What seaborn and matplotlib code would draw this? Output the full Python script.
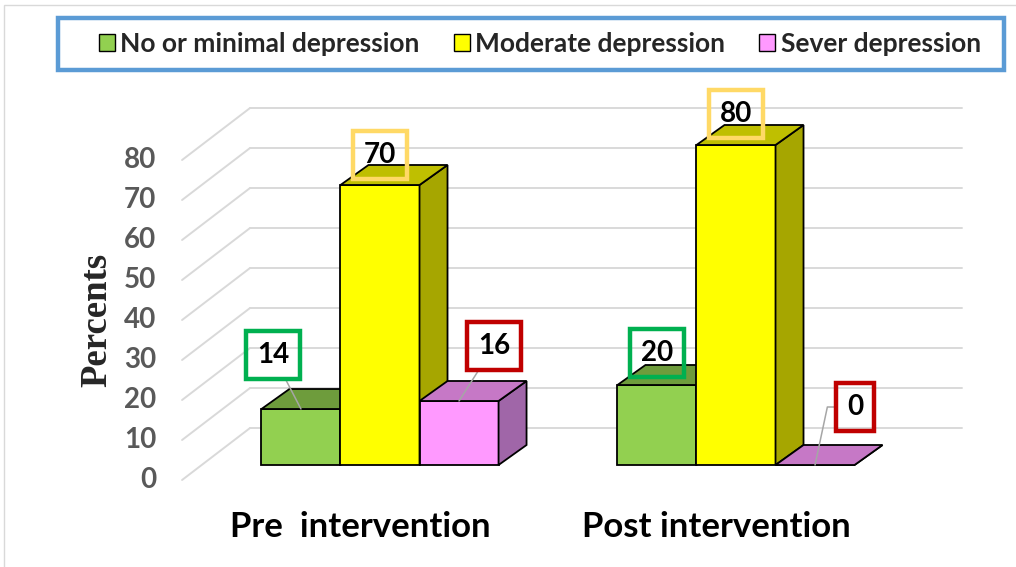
import matplotlib
matplotlib.use("Agg")
import matplotlib.pyplot as plt
import seaborn as sns
import pandas as pd
import numpy as np
from matplotlib.patches import Polygon, Rectangle, Patch

# ---- data ----
groups = ["Pre  intervention", "Post intervention"]
levels = ["No or minimal depression", "Moderate depression", "Sever depression"]
pre_values = [14, 70, 16]
post_values = [20, 80, 0]
y_ticks = [0, 10, 20, 30, 40, 50, 60, 70, 80]

# ---- styling ----
front_colors = ["#92D050", "#FFFF00", "#FF99FF"]
top_colors = ["#6E9C3C", "#BFBF00", "#C678C6"]
side_colors = ["#5E8A33", "#A6A600", "#A066A8"]
label_edges = ["#00B050", "#FFD966", "#C00000"]
# label box offsets (pixels) from the front-top centre of each bar, per group
label_offsets = [[(-28, 54), (0, 30), (35, 55)],
                 [(0, 32), (0, 31), (40, 58)]]
leader_styles = [["arc3", None, "arc3"],
                 [None, None, "angle,angleA=0,angleB=78,rad=0"]]

df = pd.DataFrame({
    "group": np.repeat(groups, len(levels)),
    "level": levels * len(groups),
    "value": pre_values + post_values,
})

W_PX, H_PX, DPI = 1016, 567, 100
X_SCALE = 356.0   # pixels per category step
Y_SCALE = 4.0     # pixels per percent
X0_PX, Y0_PX = 380.0, 102.0   # display position of group 0 / value 0

DEPTH = (28, 20)      # bar depth vector (px)
WALL = (48, 37)       # back wall offset from bar front plane (px)
FLOOR = (-20, -15)    # front edge of floor from bar front plane (px)


def dx(px):
    return px / X_SCALE


def dy(px):
    return px / Y_SCALE


sns.set_theme(style="white")
plt.rcParams["font.family"] = ["Lato", "DejaVu Sans"]

fig = plt.figure(figsize=(W_PX / DPI, H_PX / DPI), dpi=DPI)
ax = fig.add_axes([0, 0, 1, 1])
sns.barplot(data=df, x="group", y="value", hue="level", order=groups,
            hue_order=levels, palette=front_colors, width=0.666,
            edgecolor="black", linewidth=1.3, saturation=1, errorbar=None,
            legend=False, ax=ax)
ax.set_xlim(-X0_PX / X_SCALE, (W_PX - X0_PX) / X_SCALE)
ax.set_ylim(-Y0_PX / Y_SCALE, (H_PX - Y0_PX) / Y_SCALE)
ax.axis("off")

# ---- back wall / side wall gridlines ----
grid_c = "#D9D9D9"
left_front = -0.556
left_back = left_front + dx(WALL[0] - FLOOR[0])
right_back = 1.635
for v in y_ticks:
    yb = v + dy(WALL[1])
    yf = v + dy(FLOOR[1])
    ax.plot([left_back, right_back], [yb, yb], color=grid_c, lw=1.4, zorder=0.5)
    ax.plot([left_front, left_back], [yf, yb], color=grid_c, lw=1.4, zorder=0.5)
    ax.text(left_front - dx(26), yf, str(v), ha="right", va="center",
            color="#595959", fontsize=20, fontweight="bold")

# ---- 3D faces of the bars ----
ddx, ddy = dx(DEPTH[0]), dy(DEPTH[1])
for k, cont in enumerate(ax.containers):
    for g, bar in enumerate(cont):
        x0, w, h = bar.get_x(), bar.get_width(), bar.get_height()
        bar.set_zorder(2 + k)
        top = Polygon([(x0, h), (x0 + w, h), (x0 + w + ddx, h + ddy), (x0 + ddx, h + ddy)],
                      closed=True, fc=top_colors[k], ec="black", lw=1.3, zorder=2 + k)
        side = Polygon([(x0 + w, 0), (x0 + w + ddx, ddy), (x0 + w + ddx, h + ddy), (x0 + w, h)],
                       closed=True, fc=side_colors[k], ec="black", lw=1.3, zorder=2 + k)
        ax.add_patch(side)
        ax.add_patch(top)

        ox, oy = label_offsets[g][k]
        style = leader_styles[g][k]
        arrow = None
        if style is not None:
            arrow = dict(arrowstyle="-", color="#A6A6A6", lw=1.1,
                         connectionstyle=style, shrinkA=0, shrinkB=0)
        ax.annotate(f"{h:.0f}", xy=(x0 + w / 2, h),
                    xytext=(ox * 72 / DPI, oy * 72 / DPI), textcoords="offset points",
                    ha="center", va="center", fontsize=20, fontweight="bold",
                    color="black", zorder=10, arrowprops=arrow,
                    bbox=dict(boxstyle="square,pad=0.4", fc="none",
                              ec=label_edges[k], lw=3.2))

# ---- category labels ----
for i, name in enumerate(groups):
    ax.text(i + dx(FLOOR[0]), dy(-62), name, ha="center", va="center",
            fontsize=25, fontweight="bold", color="black")

# ---- axis title ----
fig.text(97 / W_PX, 1 - 320 / H_PX, "Percents", rotation=90, ha="center", va="center",
         fontsize=26.5, fontweight="bold", family=["Liberation Serif", "DejaVu Serif"])

# ---- legend ----
handles = [Patch(fc=c, ec="black", lw=1) for c in front_colors]
fig.legend(handles, levels, ncol=3, loc="center", frameon=False,
           bbox_to_anchor=(540 / W_PX, 1 - 44 / H_PX),
           prop=dict(size=19, weight="bold"),
           handlelength=0.6, handleheight=0.6, handletextpad=0.2,
           columnspacing=1.3)
fig.patches.append(Rectangle((58 / W_PX, 1 - 70 / H_PX), 946 / W_PX, 52 / H_PX,
                             transform=fig.transFigure, fill=False,
                             ec="#5B9BD5", lw=3.2))
fig.patches.append(Rectangle((4 / W_PX, -0.05), 1.1, 1.05 - 5 / H_PX,
                             transform=fig.transFigure, fill=False,
                             ec="#D9D9D9", lw=1))

fig.savefig("out.png", dpi=DPI, facecolor="white")
